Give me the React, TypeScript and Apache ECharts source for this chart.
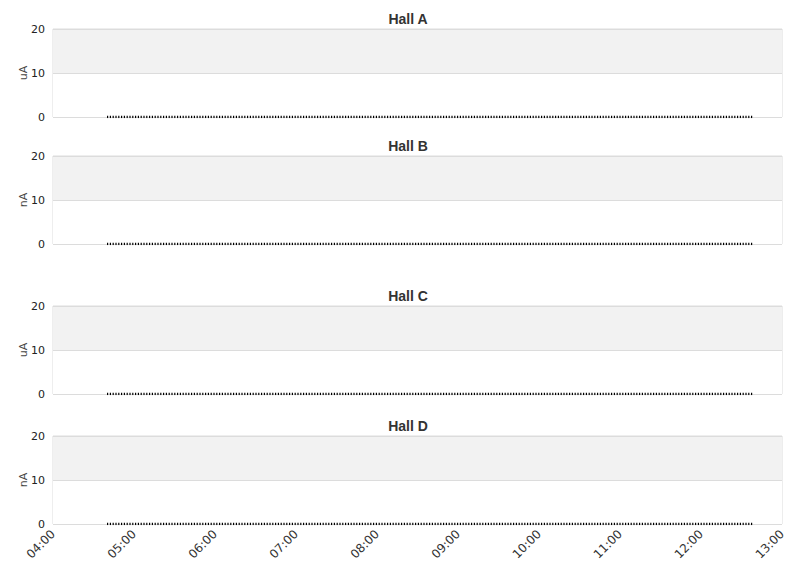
import { useEffect, useRef } from 'react';
import * as echarts from 'echarts';

// one panel per hall
const halls = ['Hall A', 'Hall B', 'Hall C', 'Hall D'];
const units = ['uA', 'nA', 'uA', 'nA'];
// beam current readings (all zero over the window), time as HH:mm
const sampleTimes = ['04:40', '12:38'];
const currentA = [0, 0];
const currentB = [0, 0];
const currentC = [0, 0];
const currentD = [0, 0];
const yTicks = [0, 10, 20];
const xTickLabels = ['04:00', '05:00', '06:00', '07:00', '08:00', '09:00', '10:00', '11:00', '12:00', '13:00'];

const toMinutes = (t: string) => {
  const [h, m] = t.split(':').map(Number);
  return h * 60 + m;
};

const App = () => {
  const chartRef = useRef<HTMLDivElement>(null);

  useEffect(() => {
    if (!chartRef.current) return;
    const chart = echarts.init(chartRef.current, undefined, { renderer: 'svg' });

    const values = [currentA, currentB, currentC, currentD];
    const gridTops = [21, 148, 298, 428];
    const titleTops = [4, 131, 281, 411];
    const xMin = toMinutes(xTickLabels[0]);
    const xMax = toMinutes(xTickLabels[xTickLabels.length - 1]);

    const option = {
      animation: false,
      backgroundColor: '#fff',
      title: halls.map((h, i) => ({
        text: h,
        left: 400,
        textAlign: 'center',
        top: titleTops[i],
        padding: 0,
        textStyle: { fontSize: 14, fontWeight: 'bold', color: '#333', fontFamily: 'Liberation Sans, Arial, sans-serif' },
      })),
      grid: gridTops.map((t) => ({
        left: 45,
        right: 21,
        top: t,
        height: 88,
        outerBoundsMode: 'none',
        containLabel: false,
        show: true,
        borderColor: '#dcdcdc',
        borderWidth: 1,
      })),
      xAxis: halls.map((_, i) => ({
        type: 'value',
        gridIndex: i,
        min: xMin,
        max: xMax,
        interval: 60,
        show: i === halls.length - 1,
        axisLine: { show: false },
        axisTick: { show: false },
        splitLine: { show: false },
        axisLabel: {
          rotate: 45,
          margin: 8,
          fontSize: 12,
          color: '#333',
          fontFamily: 'DejaVu Sans, sans-serif',
          formatter: (v: number) => xTickLabels[Math.round((v - xMin) / 60)] ?? '',
        },
      })),
      yAxis: halls.map((_, i) => ({
        type: 'value',
        gridIndex: i,
        min: yTicks[0],
        max: yTicks[yTicks.length - 1],
        interval: 10,
        name: units[i],
        nameLocation: 'middle',
        nameGap: 24,
        nameMoveOverlap: false,
        nameTextStyle: { fontSize: 11, color: '#444', fontFamily: 'DejaVu Sans, sans-serif' },
        axisLine: { show: false },
        axisTick: { show: false },
        axisLabel: { fontSize: 11, color: '#222', margin: 8, fontFamily: 'DejaVu Sans, sans-serif' },
        splitLine: { show: true, lineStyle: { color: '#dcdcdc', width: 1 } },
        splitArea: { show: true, areaStyle: { color: ['#ffffff', '#f2f2f2'] } },
      })),
      series: values.map((vals, i) => ({
        type: 'line',
        name: halls[i],
        xAxisIndex: i,
        yAxisIndex: i,
        showSymbol: false,
        data: sampleTimes.map((t, k) => [toMinutes(t), vals[k]]),
        lineStyle: { color: '#000', width: 2.5, type: [1.2, 1.6] },
      })),
    };

    chart.setOption(option);
    return () => {
      chart.dispose();
    };
  }, []);

  return <div ref={chartRef} style={{ width: '795px', height: '562px' }} />;
};

export default App;
